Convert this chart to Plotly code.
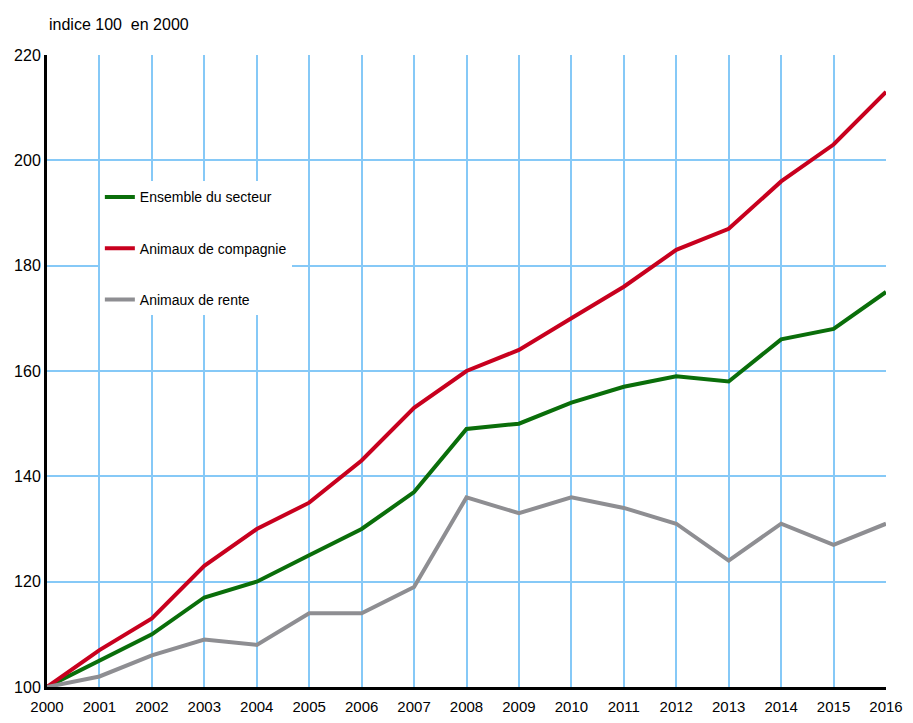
import plotly.graph_objects as go

annees = list(range(2000, 2017))
ensemble = [100, 105, 110, 117, 120, 125, 130, 137, 149, 150, 154, 157, 159, 158, 166, 168, 175]
compagnie = [100, 107, 113, 123, 130, 135, 143, 153, 160, 164, 170, 176, 183, 187, 196, 203, 213]
rente = [100, 102, 106, 109, 108, 114, 114, 119, 136, 133, 136, 134, 131, 124, 131, 127, 131]

police = "Liberation Sans Narrow, Arial Narrow, Liberation Sans, sans-serif"

fig = go.Figure()
series = [
    ("Ensemble du secteur", ensemble, "#0a6e0a"),
    ("Animaux de compagnie", compagnie, "#c8001e"),
    ("Animaux de rente", rente, "#8e8e92"),
]
for nom, valeurs, couleur in series:
    fig.add_trace(go.Scatter(x=annees, y=valeurs, mode="lines", name=nom, legendgroup=nom,
                             line=dict(color=couleur, width=4)))

# la page ajoute 8 px de marge autour du graphique
fig.update_layout(
    width=905, height=715,
    margin=dict(l=39, r=27, t=47, b=36),
    paper_bgcolor="white", plot_bgcolor="white",
    font=dict(family=police, size=16, color="black"),
    showlegend=True,
    legend=dict(x=0.063, y=0.80, xanchor="left", yanchor="top", bgcolor="white",
                tracegroupgap=30, font=dict(size=14, family=police), itemwidth=30),
    annotations=[dict(text="indice 100  en 2000", xref="paper", yref="paper", x=0, y=1.0,
                      yshift=20, xanchor="left", yanchor="bottom", showarrow=False,
                      font=dict(size=16, family=police))],
)
fig.update_xaxes(range=[2000, 2016], tickvals=annees, showgrid=True, gridcolor="#86c9f7", gridwidth=2,
                 showline=True, linecolor="black", linewidth=3, ticks="", zeroline=False,
                 ticklabelstandoff=4, tickfont=dict(size=15), automargin=False)
fig.update_yaxes(range=[100, 220], dtick=20, showgrid=True, gridcolor="#86c9f7", gridwidth=2,
                 showline=True, linecolor="black", linewidth=3, ticks="", zeroline=False,
                 automargin=False)

fig.write_html("out.html")
